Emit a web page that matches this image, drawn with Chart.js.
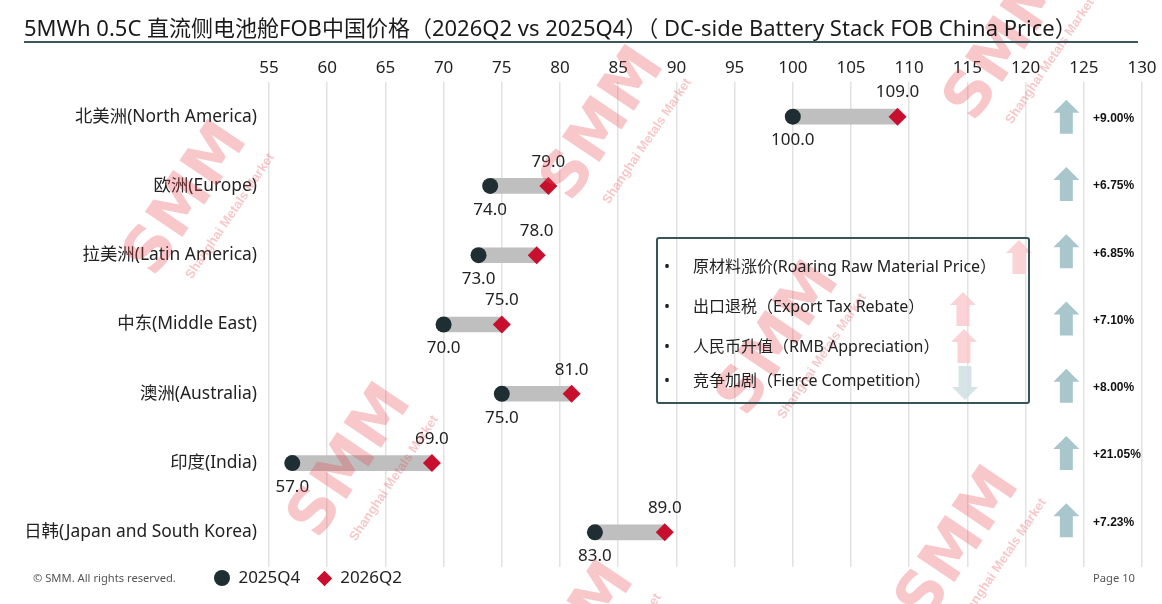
<!DOCTYPE html>
<html>
<head>
<meta charset="utf-8">
<script src="https://cdn.jsdelivr.net/npm/chart.js@4.4.1/dist/chart.umd.min.js"></script>
<style>
  body { margin: 0; background: #fff; font-family: "Noto Sans", "Noto Sans CJK SC", sans-serif; color: #222; }
  #wrap { position: relative; width: 1162px; height: 604px; overflow: hidden; }
  #chart { position: absolute; left: 0; top: 0; }
  #title { position: absolute; left: 24px; top: 10px; font-size: 22px; color: #1a1a1a; white-space: nowrap; }
  #rule { position: absolute; left: 24px; top: 41px; width: 1114px; height: 2px; background: #3b575c; }
  #box { position: absolute; left: 656px; top: 237px; width: 370px; height: 163px;
         border: 2px solid #36545a; border-radius: 3px; }
  #box div { position: absolute; left: 6px; font-size: 16px; white-space: nowrap; transform: translateY(-50%); }
  #box span.b { display: inline-block; width: 29px; }
  .foot { position: absolute; top: 570px; font-size: 11.2px; color: #555; }
  #leg { position: absolute; left: 214px; top: 565px; font-size: 17px; white-space: nowrap; }
  #leg i { display: inline-block; vertical-align: middle; }
</style>
</head>
<body>
<div id="wrap">
  <canvas id="chart" width="1162" height="604"></canvas>
  <div id="title">5MWh 0.5C 直流侧电池舱FOB中国价格（2026Q2 vs 2025Q4）（ DC-side Battery Stack FOB China Price）</div>
  <div id="rule"></div>
  <div id="box"></div>
  <div class="foot" style="left:33px">© SMM. All rights reserved.</div>
  <div class="foot" style="left:1093px">Page 10</div>
  <div id="leg">
    <i style="width:16px;height:16px;border-radius:50%;background:#1f2e33"></i>
    <span style="margin-left:4px">2025Q4</span>
    <i style="width:11px;height:11px;background:#c8102e;transform:rotate(45deg);margin-left:14px"></i>
    <span style="margin-left:6px">2026Q2</span>
  </div>
</div>
<script>
const regions = ['北美洲(North America)', '欧洲(Europe)', '拉美洲(Latin America)', '中东(Middle East)',
                 '澳洲(Australia)', '印度(India)', '日韩(Japan and South Korea)'];
const price2025Q4 = [100, 74, 73, 70, 75, 57, 83];
const price2026Q2 = [109, 79, 78, 75, 81, 69, 89];
const changes = ['+9.00%', '+6.75%', '+6.85%', '+7.10%', '+8.00%', '+21.05%', '+7.23%'];
const factors = ['原材料涨价(Roaring Raw Material Price）', '出口退税（Export Tax Rebate）',
                 '人民币升值（RMB Appreciation）', '竞争加剧（Fierce Competition）'];

// factor list inside the box
const box = document.getElementById('box');
[26, 66, 106, 140].forEach((top, i) => {
  const d = document.createElement('div');
  d.style.top = top + 'px';
  d.innerHTML = '<span class="b">•</span>' + factors[i];
  box.appendChild(d);
});

const FONT = '"Noto Sans", "Noto Sans CJK SC", sans-serif';

function arrow(ctx, cx, cy, color, down) {
  // block arrow, 26 wide, 34 tall
  ctx.save();
  ctx.translate(cx, cy);
  if (down) ctx.rotate(Math.PI);
  ctx.fillStyle = color;
  ctx.beginPath();
  ctx.moveTo(0, -17);
  ctx.lineTo(13, -4);
  ctx.lineTo(6.5, -4);
  ctx.lineTo(6.5, 17);
  ctx.lineTo(-6.5, 17);
  ctx.lineTo(-6.5, -4);
  ctx.lineTo(-13, -4);
  ctx.closePath();
  ctx.fill();
  ctx.restore();
}

function watermark(ctx, x, y) {
  ctx.save();
  ctx.translate(x, y);
  ctx.rotate(-56 * Math.PI / 180);
  ctx.fillStyle = 'rgba(232, 70, 80, 0.30)';
  ctx.textAlign = 'center';
  ctx.textBaseline = 'middle';
  ctx.font = 'bold 62px "DejaVu Sans", sans-serif';
  ctx.fillText('SMM', 0, 0);
  ctx.font = 'bold 13px "Liberation Sans", Arial, sans-serif';
  ctx.fillText('Shanghai Metals Market', 10, 44);
  ctx.restore();
}

const extras = {
  id: 'extras',
  afterDatasetsDraw(chart) {
    const ctx = chart.ctx;
    const q4 = chart.getDatasetMeta(1).data;
    const q2 = chart.getDatasetMeta(2).data;
    ctx.save();
    ctx.font = '17px ' + FONT;
    ctx.fillStyle = '#222';
    ctx.textAlign = 'center';
    ctx.textBaseline = 'middle';
    regions.forEach((r, i) => {
      ctx.fillText(price2026Q2[i].toFixed(1), q2[i].x, q2[i].y - 24);
      ctx.fillText(price2025Q4[i].toFixed(1), q4[i].x, q4[i].y + 24);
    });
    // small icons inside the factor box
    arrow(ctx, 1019, 257, 'rgba(250, 200, 205, 0.8)', false);
    arrow(ctx, 963, 309, 'rgba(250, 200, 205, 0.8)', false);
    arrow(ctx, 964, 346, 'rgba(250, 200, 205, 0.8)', false);
    arrow(ctx, 965, 383, 'rgba(210, 225, 230, 0.9)', true);
    // change arrows and percentages
    const xs = chart.scales.x, ys = chart.scales.y;
    ctx.font = 'bold 12px "Liberation Sans", Arial, sans-serif';
    ctx.textAlign = 'left';
    ctx.fillStyle = '#111';
    regions.forEach((r, i) => {
      const y = ys.getPixelForValue(i) - 2 * i;
      arrow(ctx, xs.getPixelForValue(123.5), y, '#a9c6cc', false);
      ctx.fillText(changes[i], xs.getPixelForValue(125.8), y + 2);
    });
    ctx.restore();
  },
  afterDraw(chart) {
    const ctx = chart.ctx;
    [[188, 200], [605, 125], [352, 462], [780, 340], [960, 545], [1008, 45], [575, 640]]
      .forEach(p => watermark(ctx, p[0], p[1]));
  }
};

new Chart(document.getElementById('chart'), {
  type: 'bar',
  data: {
    labels: regions,
    datasets: [
      {
        label: 'range',
        data: price2025Q4.map((v, i) => [v, price2026Q2[i]]),
        backgroundColor: '#bfbfbf',
        barThickness: 15,
        order: 3
      },
      {
        type: 'line',
        label: '2025Q4',
        data: price2025Q4,
        showLine: false,
        pointStyle: 'circle',
        pointRadius: 8,
        pointBackgroundColor: '#1f2e33',
        pointBorderWidth: 0,
        order: 2
      },
      {
        type: 'line',
        label: '2026Q2',
        data: price2026Q2,
        showLine: false,
        pointStyle: 'rectRot',
        pointRadius: 9,
        pointBackgroundColor: '#c8102e',
        pointBorderWidth: 0,
        order: 1
      }
    ]
  },
  options: {
    indexAxis: 'y',
    responsive: false,
    animation: false,
    layout: { padding: { left: 0, right: 20, top: 0, bottom: 37 } },
    plugins: { legend: { display: false }, tooltip: { enabled: false } },
    scales: {
      x: {
        position: 'top',
        min: 55,
        max: 130,
        ticks: { stepSize: 5, color: '#222', font: { size: 17, family: FONT }, padding: 4 },
        grid: { color: '#e2e2e2', lineWidth: 1.5, drawTicks: false },
        border: { display: false },
        afterFit(s) { s.height = 82; }
      },
      y: {
        ticks: { color: '#222', font: { size: 17.4, family: FONT }, padding: 4 },
        grid: { display: false },
        border: { display: false },
        afterFit(s) { s.width = 269; }
      }
    }
  },
  plugins: [extras]
});
</script>
</body>
</html>
